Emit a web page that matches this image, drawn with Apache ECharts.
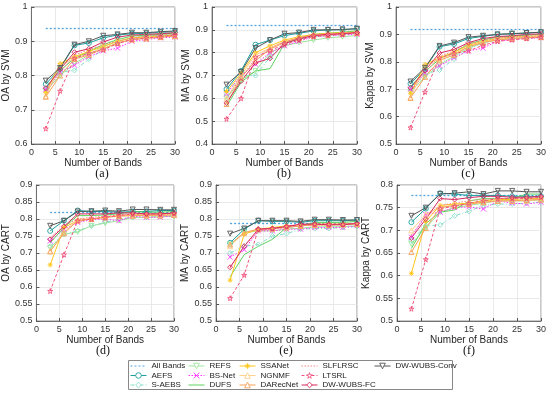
<!DOCTYPE html>
<html><head><meta charset="utf-8">
<script src="https://cdn.jsdelivr.net/npm/echarts@6/dist/echarts.min.js"></script>
<style>html,body{margin:0;padding:0;background:#fff}#c{width:550px;height:395px}</style>
</head><body><div id="c"></div>
<script>
const bands = [3, 6, 9, 12, 15, 18, 21, 24, 27, 30];
const methods = ['AEFS','S-AEBS','REFS','BS-Net','DUFS','SSANet','NGNMF','DARecNet','SLFLRSC','LTSRL','DW-WUBS-FC','DW-WUBS-Conv'];
const allBandsName = 'All Bands';
const allBands = [0.937, 0.918, 0.918, 0.82, 0.787, 0.777];
const panelLabels = ['(a)','(b)','(c)','(d)','(e)','(f)'];
const yNames = ['OA by SVM','MA by SVM','Kappa by SVM','OA by CART','MA by CART','Kappa by CART'];
const yMin = [0.6, 0.4, 0.5, 0.5, 0.5, 0.5];
const yMax = [1, 1, 1, 0.9, 0.9, 0.8];
const yStep = [0.1, 0.1, 0.1, 0.05, 0.05, 0.05];

// rows follow the order of `methods`
const oaSvm = [
 [0.775,0.820,0.888,0.895,0.910,0.918,0.922,0.923,0.926,0.928],
 [0.760,0.810,0.815,0.848,0.875,0.895,0.905,0.910,0.915,0.918],
 [0.755,0.800,0.835,0.860,0.885,0.900,0.910,0.915,0.918,0.920],
 [0.760,0.810,0.830,0.855,0.872,0.880,0.900,0.905,0.910,0.912],
 [0.765,0.815,0.850,0.870,0.890,0.905,0.915,0.918,0.920,0.925],
 [0.750,0.835,0.855,0.870,0.885,0.900,0.910,0.912,0.915,0.918],
 [0.740,0.830,0.850,0.865,0.880,0.895,0.905,0.910,0.913,0.915],
 [0.738,0.800,0.848,0.860,0.878,0.895,0.905,0.908,0.912,0.915],
 [0.750,0.810,0.860,0.875,0.890,0.900,0.910,0.915,0.918,0.920],
 [0.645,0.755,0.850,0.865,0.875,0.893,0.905,0.910,0.913,0.918],
 [0.763,0.818,0.868,0.878,0.898,0.912,0.918,0.920,0.922,0.925],
 [0.785,0.822,0.890,0.900,0.916,0.920,0.925,0.925,0.928,0.930]
];
const maSvm = [
 [0.640,0.720,0.835,0.855,0.875,0.885,0.895,0.900,0.900,0.905],
 [0.620,0.700,0.700,0.780,0.840,0.860,0.870,0.875,0.880,0.885],
 [0.600,0.680,0.720,0.800,0.830,0.845,0.855,0.865,0.870,0.875],
 [0.620,0.700,0.750,0.800,0.830,0.850,0.870,0.875,0.878,0.880],
 [0.565,0.670,0.720,0.730,0.840,0.865,0.880,0.885,0.890,0.895],
 [0.630,0.710,0.800,0.830,0.855,0.870,0.880,0.885,0.888,0.890],
 [0.600,0.700,0.790,0.820,0.850,0.865,0.875,0.880,0.885,0.888],
 [0.575,0.690,0.765,0.815,0.845,0.865,0.875,0.880,0.883,0.887],
 [0.600,0.690,0.775,0.820,0.848,0.865,0.878,0.882,0.885,0.888],
 [0.510,0.600,0.780,0.810,0.835,0.855,0.870,0.875,0.880,0.885],
 [0.580,0.675,0.755,0.775,0.840,0.860,0.875,0.880,0.883,0.888],
 [0.660,0.715,0.820,0.855,0.883,0.888,0.900,0.900,0.902,0.905]
];
const kappaSvm = [
 [0.720,0.775,0.855,0.865,0.885,0.893,0.900,0.902,0.905,0.908],
 [0.700,0.755,0.770,0.810,0.845,0.870,0.880,0.885,0.890,0.892],
 [0.690,0.745,0.790,0.820,0.850,0.870,0.880,0.885,0.888,0.890],
 [0.700,0.760,0.785,0.815,0.840,0.850,0.875,0.882,0.885,0.888],
 [0.710,0.765,0.810,0.835,0.865,0.880,0.890,0.893,0.897,0.900],
 [0.685,0.790,0.815,0.835,0.860,0.875,0.885,0.890,0.892,0.895],
 [0.670,0.785,0.810,0.830,0.855,0.872,0.882,0.887,0.890,0.892],
 [0.668,0.745,0.805,0.825,0.855,0.870,0.880,0.885,0.888,0.890],
 [0.690,0.760,0.820,0.840,0.865,0.878,0.887,0.890,0.893,0.895],
 [0.560,0.690,0.815,0.830,0.840,0.860,0.875,0.880,0.885,0.890],
 [0.705,0.768,0.832,0.845,0.870,0.885,0.892,0.895,0.900,0.902],
 [0.728,0.778,0.858,0.870,0.890,0.895,0.900,0.903,0.905,0.908]
];
const oaCart = [
 [0.765,0.795,0.825,0.822,0.822,0.820,0.822,0.822,0.825,0.825],
 [0.720,0.755,0.765,0.780,0.790,0.800,0.805,0.805,0.808,0.810],
 [0.715,0.755,0.762,0.780,0.788,0.795,0.805,0.805,0.807,0.808],
 [0.735,0.770,0.790,0.798,0.800,0.795,0.808,0.805,0.805,0.810],
 [0.730,0.775,0.810,0.810,0.812,0.815,0.822,0.820,0.820,0.822],
 [0.665,0.775,0.795,0.800,0.805,0.810,0.812,0.812,0.815,0.815],
 [0.705,0.760,0.800,0.800,0.805,0.810,0.810,0.812,0.812,0.815],
 [0.705,0.758,0.795,0.800,0.805,0.808,0.810,0.810,0.810,0.812],
 [0.745,0.780,0.800,0.805,0.808,0.812,0.815,0.815,0.815,0.815],
 [0.588,0.695,0.795,0.800,0.805,0.810,0.815,0.815,0.815,0.817],
 [0.740,0.778,0.815,0.815,0.815,0.818,0.818,0.815,0.815,0.818],
 [0.780,0.795,0.822,0.823,0.825,0.823,0.828,0.828,0.827,0.827]
];
const maCart = [
 [0.730,0.770,0.795,0.793,0.793,0.790,0.795,0.795,0.795,0.797],
 [0.700,0.720,0.725,0.750,0.757,0.770,0.772,0.772,0.775,0.778],
 [0.725,0.760,0.765,0.765,0.770,0.773,0.777,0.777,0.778,0.780],
 [0.688,0.710,0.765,0.765,0.770,0.770,0.775,0.775,0.775,0.780],
 [0.630,0.695,0.720,0.740,0.775,0.780,0.790,0.790,0.790,0.793],
 [0.620,0.755,0.770,0.775,0.780,0.780,0.785,0.785,0.785,0.787],
 [0.720,0.760,0.770,0.772,0.778,0.780,0.782,0.782,0.783,0.785],
 [0.725,0.760,0.770,0.772,0.775,0.780,0.783,0.783,0.785,0.785],
 [0.655,0.720,0.765,0.770,0.775,0.780,0.783,0.783,0.785,0.787],
 [0.567,0.635,0.770,0.772,0.778,0.783,0.785,0.785,0.785,0.787],
 [0.658,0.720,0.770,0.772,0.778,0.785,0.785,0.783,0.783,0.787],
 [0.757,0.772,0.795,0.795,0.795,0.793,0.798,0.798,0.797,0.797]
];
const kappaCart = [
 [0.718,0.748,0.782,0.780,0.777,0.777,0.777,0.775,0.775,0.775],
 [0.678,0.710,0.712,0.732,0.742,0.755,0.758,0.758,0.760,0.762],
 [0.670,0.705,0.740,0.750,0.755,0.760,0.765,0.765,0.765,0.767],
 [0.685,0.735,0.740,0.750,0.752,0.747,0.765,0.760,0.758,0.762],
 [0.660,0.715,0.740,0.745,0.765,0.770,0.770,0.770,0.780,0.780],
 [0.605,0.720,0.755,0.758,0.760,0.765,0.768,0.768,0.770,0.770],
 [0.700,0.735,0.752,0.755,0.758,0.762,0.765,0.765,0.765,0.768],
 [0.652,0.705,0.750,0.755,0.758,0.762,0.765,0.765,0.767,0.768],
 [0.690,0.730,0.755,0.760,0.765,0.768,0.770,0.770,0.772,0.772],
 [0.527,0.636,0.748,0.753,0.760,0.765,0.770,0.770,0.770,0.773],
 [0.683,0.725,0.770,0.768,0.772,0.775,0.775,0.773,0.773,0.775],
 [0.732,0.750,0.780,0.782,0.785,0.780,0.787,0.787,0.785,0.785]
];
const panels = [oaSvm, maSvm, kappaSvm, oaCart, maCart, kappaCart];

// styling (not data)
const STAR = 'path://M50,0L61,35L98,35L68,57L79,91L50,70L21,91L32,57L2,35L39,35Z';
const XMARK = 'path://M0,0L10,10M10,0L0,10';
const ASTER = 'path://M5,0L5,10M0,5L10,5M1.5,1.5L8.5,8.5M8.5,1.5L1.5,8.5';
const styles = {
 'All Bands':   {c:'#4fa3e3', t:[2,2], s:'none'},
 'AEFS':        {c:'#1f9e9e', t:'solid', s:'circle'},
 'S-AEBS':      {c:'#86dcc8', t:[4,2,1,2], s:'diamond'},
 'REFS':        {c:'#9ee59e', t:'solid', s:'triangle', r:180},
 'BS-Net':      {c:'#ff33ff', t:[1.5,1.5], s:XMARK},
 'DUFS':        {c:'#5fd35f', t:'solid', s:'none'},
 'SSANet':      {c:'#ffc61a', t:'solid', s:ASTER},
 'NGNMF':       {c:'#ffd08a', t:'solid', s:'triangle'},
 'DARecNet':    {c:'#f5a05a', t:'solid', s:'triangle'},
 'SLFLRSC':     {c:'#ff8585', t:[1.5,1.5], s:'none'},
 'LTSRL':       {c:'#f0527c', t:[3,2], s:STAR},
 'DW-WUBS-FC':  {c:'#d42a5c', t:'solid', s:'diamond'},
 'DW-WUBS-Conv':{c:'#555555', t:'solid', s:'triangle', r:180}
};

const grids = [
 {left:30, top:7, width:145, height:137},
 {left:212, top:7, width:145, height:137},
 {left:396, top:7, width:145, height:137},
 {left:32, top:185, width:142, height:136},
 {left:216, top:185, width:141, height:136},
 {left:397, top:185, width:144, height:136}
];
const yGaps = [14, 14, 15, 16, 18, 15];
const FONT = '"Liberation Sans", Arial, sans-serif';

const xAxes = grids.map((g,i)=>({
 gridIndex:i, type:'value', min:0, max:30, interval:5,
 name:'Number of Bands', nameLocation:'middle', nameGap:11,
 nameTextStyle:{fontSize:10, color:'#262626', fontFamily:FONT, lineHeight:10},
 axisLine:{lineStyle:{color:'#555', width:0.8}},
 axisTick:{inside:true, length:3, lineStyle:{color:'#555'}},
 axisLabel:{fontSize:9, color:'#333', margin:4, fontFamily:FONT},
 splitLine:{show:true, lineStyle:{color:'#e3e3e3', width:0.8}}
}));
const yAxes = grids.map((g,i)=>({
 gridIndex:i, type:'value', min:yMin[i], max:yMax[i], interval:yStep[i],
 name:yNames[i], nameLocation:'middle', nameGap:yGaps[i],
 nameTextStyle:{fontSize:10, color:'#262626', fontFamily:FONT},
 axisLine:{show:true, lineStyle:{color:'#555', width:0.8}},
 axisTick:{show:true, inside:true, length:3, lineStyle:{color:'#555'}},
 axisLabel:{fontSize:9, color:'#333', margin:4, fontFamily:FONT},
 splitLine:{show:true, lineStyle:{color:'#e3e3e3', width:0.8}}
}));

const abStyle = styles[allBandsName];
const series = [];
// legend entry for the reference level; the level itself is drawn as a markLine in every panel
series.push({type:'line', name:allBandsName, xAxisIndex:0, yAxisIndex:0, data:[], symbol:'none',
  lineStyle:{color:abStyle.c, width:1.3, type:abStyle.t}});
panels.forEach((rows,i)=>{
 methods.forEach((m,j)=>{
   const s = styles[m];
   const ser = {type:'line', name:m, xAxisIndex:i, yAxisIndex:i,
     data:bands.map((b,k)=>[b, rows[j][k]]),
     symbol:s.s, symbolSize:5, symbolRotate:s.r||0, showSymbol:true,
     animation:false, z:3,
     lineStyle:{color:s.c, width:1, type:s.t},
     itemStyle:{color:'rgba(255,255,255,0)', borderColor:s.c, borderWidth:0.9}
   };
   if (j === 0) {
     ser.markLine = {silent:true, symbol:['none','none'], animation:false, z:1,
       label:{show:false},
       lineStyle:{color:abStyle.c, width:1.3, type:abStyle.t},
       emphasis:{disabled:true},
       data:[[{coord:[bands[0], allBands[i]]}, {coord:[bands[bands.length-1], allBands[i]]}]]};
   }
   series.push(ser);
 });
});

const legendCols = [
 {names:['All Bands','AEFS','S-AEBS'], left:130},
 {names:['REFS','BS-Net','DUFS'], left:188},
 {names:['SSANet','NGNMF','DARecNet'], left:239},
 {names:['SLFLRSC','LTSRL','DW-WUBS-FC'], left:301},
 {names:['DW-WUBS-Conv'], left:374}
];
const legends = legendCols.map(col=>({
 orient:'vertical', left:col.left, top:362, itemGap:1.5, itemWidth:16, itemHeight:7,
 padding:0, selectedMode:false,
 textStyle:{fontSize:8, color:'#222', fontFamily:FONT, lineHeight:7},
 data:col.names.map(n=>{
   const st = styles[n];
   const hide = st.s === 'none';
   return {name:n,
     itemStyle: hide ? {color:'rgba(0,0,0,0)', borderColor:'rgba(0,0,0,0)', borderWidth:0}
                     : {color:'#fff', borderColor:st.c, borderWidth:0.9},
     lineStyle:{color:st.c, type:st.t, width:1}};
 })
}));

const centers = [[102,174],[284,174],[468,174],[103,351],[286,351],[469,351]];
const graphics = panelLabels.map((t,i)=>({type:'text', x:centers[i][0], y:centers[i][1],
  style:{text:t, font:'12px "Liberation Serif", "Times New Roman", serif', fill:'#111', textAlign:'center', textVerticalAlign:'middle'}}));
graphics.push({type:'rect', shape:{x:128.5, y:360.5, width:324, height:29}, style:{fill:'none', stroke:'#888', lineWidth:1}, z:-1});

const chart = echarts.init(document.getElementById('c'), null, {renderer:'canvas'});
chart.setOption({
 backgroundColor:'#fff', animation:false,
 grid:grids.map(g=>Object.assign({show:true, borderColor:'#777', borderWidth:0.8, backgroundColor:'#fff'}, g)),
 xAxis:xAxes, yAxis:yAxes, legend:legends, graphic:graphics, series:series
});
</script></body></html>
